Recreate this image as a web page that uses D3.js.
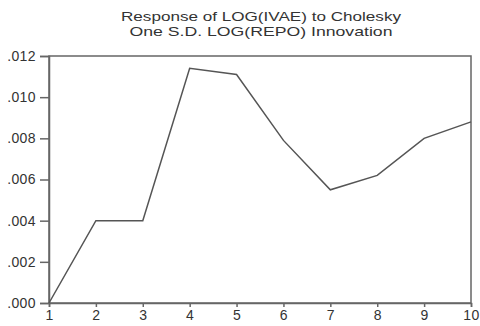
<!DOCTYPE html>
<html>
<head>
<meta charset="utf-8">
<script src="https://cdn.jsdelivr.net/npm/d3@7"></script>
<style>
  body { margin: 0; background: #fff; }
  svg { display: block; font-family: "Liberation Sans", Arial, sans-serif; }
  .axis text { fill: #333; font-size: 14px; letter-spacing: 0.4px; }
  .axis path, .axis line { stroke: #666; stroke-width: 1.5; }
</style>
</head>
<body>
<svg id="chart" width="480" height="326"></svg>
<script>
// response values per period
var periods = [1, 2, 3, 4, 5, 6, 7, 8, 9, 10];
var response = [0.0000, 0.0040, 0.0040, 0.0114, 0.0111, 0.0079, 0.0055, 0.0062, 0.0080, 0.0088];
var yTicks = [0, 0.002, 0.004, 0.006, 0.008, 0.010, 0.012];
var titleLines = ["Response of LOG(IVAE) to Cholesky", "One S.D. LOG(REPO) Innovation"];
var titleWidths = [280, 263];

var svg = d3.select("#chart");
var margin = {top: 56, right: 9, bottom: 23, left: 49};
var width = 480 - margin.left - margin.right;
var height = 326 - margin.top - margin.bottom;

var x = d3.scaleLinear().domain([1, 10]).range([0, width]);
var y = d3.scaleLinear().domain([0, 0.012]).range([height, 0]);

var g = svg.append("g")
  .attr("transform", "translate(" + margin.left + "," + margin.top + ")");

// frame
g.append("rect")
  .attr("width", width)
  .attr("height", height)
  .attr("fill", "none")
  .attr("stroke", "#666")
  .attr("stroke-width", 1.5);

g.append("g")
  .attr("class", "axis")
  .attr("transform", "translate(0," + height + ")")
  .call(d3.axisBottom(x).tickValues(periods).tickSize(4).tickPadding(3).tickFormat(d3.format("d")));

g.append("g")
  .attr("class", "axis")
  .call(d3.axisLeft(y).tickValues(yTicks).tickSize(9).tickPadding(4)
    .tickFormat(function(d) { return d3.format(".3f")(d).replace(/^0/, ""); }));

var line = d3.line()
  .x(function(d, i) { return x(periods[i]); })
  .y(function(d) { return y(d); });

g.append("path")
  .datum(response)
  .attr("d", line)
  .attr("fill", "none")
  .attr("stroke", "#555")
  .attr("stroke-width", 1.5);

svg.append("g").selectAll("text")
  .data(titleLines)
  .enter()
  .append("text")
  .attr("x", 261)
  .attr("y", function(d, i) { return 21 + i * 14.5; })
  .attr("text-anchor", "middle")
  .attr("font-size", "13.5px")
  .attr("fill", "#333")
  .attr("textLength", function(d, i) { return titleWidths[i]; })
  .attr("lengthAdjust", "spacingAndGlyphs")
  .text(function(d) { return d; });
</script>
</body>
</html>
